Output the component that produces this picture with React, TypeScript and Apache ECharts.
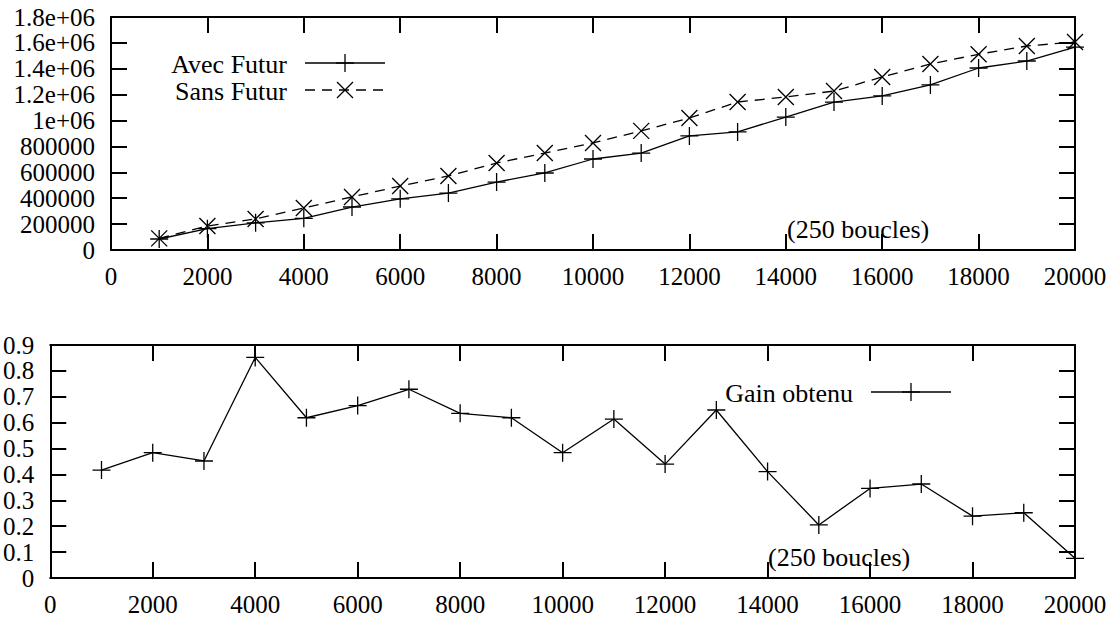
import React, { useEffect, useRef } from "react";
import * as echarts from "echarts";

const xValues = [1000, 2000, 3000, 4000, 5000, 6000, 7000, 8000, 9000, 10000, 11000, 12000, 13000, 14000, 15000, 16000, 17000, 18000, 19000, 20000];
const avecFutur = [85000, 165000, 210000, 245000, 332000, 395000, 440000, 525000, 595000, 703000, 749000, 881000, 912000, 1027000, 1143000, 1190000, 1275000, 1406000, 1460000, 1568000];
const sansFutur = [90000, 185000, 240000, 325000, 410000, 494000, 572000, 672000, 749000, 827000, 920000, 1020000, 1143000, 1182000, 1228000, 1337000, 1437000, 1512000, 1576000, 1607000];
const gainObtenu = [0.417, 0.484, 0.452, 0.852, 0.619, 0.666, 0.729, 0.636, 0.619, 0.484, 0.614, 0.44, 0.649, 0.411, 0.205, 0.346, 0.363, 0.239, 0.252, 0.076];

const xTicks = [0, 2000, 4000, 6000, 8000, 10000, 12000, 14000, 16000, 18000, 20000];
const yTicksTop = [0, 200000, 400000, 600000, 800000, 1000000, 1200000, 1400000, 1600000, 1800000];
const yTicksBottom = [0, 0.1, 0.2, 0.3, 0.4, 0.5, 0.6, 0.7, 0.8, 0.9];

const FONT = "Liberation Serif";
const FS = 25;
const FST = 26;
const PLUS = "path://M0,10L20,10M10,0L10,20";
const CROSS = "path://M0,0L20,20M20,0L0,20";

function topLabel(v: number) {
  if (v >= 1000000) return String(Math.round(v / 100000) / 10) + "e+06";
  return String(v);
}
function botLabel(v: number) {
  if (v === 0) return "0";
  return v.toFixed(1);
}

export default function App() {
  const ref = useRef<HTMLDivElement>(null);
  useEffect(() => {
    if (!ref.current) return;
    const chart = echarts.init(ref.current, null, { renderer: "svg" });
    const line = { show: true, lineStyle: { color: "#000", width: 2 } };
    const tick = { show: true, inside: true, length: 16, lineStyle: { color: "#000", width: 2 } };
    const mkX = (grid: number, secondary: boolean) => ({
      type: "value",
      gridIndex: grid,
      position: secondary ? "top" : "bottom",
      min: xTicks[0],
      max: xTicks[xTicks.length - 1],
      interval: xTicks[1] - xTicks[0],
      axisLine: secondary ? { ...line, onZero: false } : line,
      axisTick: tick,
      axisLabel: secondary
        ? { show: false }
        : { show: true, margin: 14, formatter: (v: number) => String(v), color: "#000", fontFamily: FONT, fontSize: FS },
      splitLine: { show: false },
    });
    const mkY = (grid: number, secondary: boolean, ticks: number[], fmt: (v: number) => string) => ({
      type: "value",
      gridIndex: grid,
      position: secondary ? "right" : "left",
      min: ticks[0],
      max: ticks[ticks.length - 1],
      interval: ticks[1] - ticks[0],
      axisLine: secondary ? { ...line, onZero: false } : line,
      axisTick: tick,
      axisLabel: secondary
        ? { show: false }
        : { show: true, margin: 16, formatter: fmt, color: "#000", fontFamily: FONT, fontSize: FS },
      splitLine: { show: false },
    });
    const legendPlus = (cx: number, cy: number) => [
      { type: "line", shape: { x1: cx - 9, y1: cy, x2: cx + 9, y2: cy }, style: { stroke: "#000", lineWidth: 1.3 } },
      { type: "line", shape: { x1: cx, y1: cy - 9, x2: cx, y2: cy + 9 }, style: { stroke: "#000", lineWidth: 1.3 } },
    ];
    const legendCross = (cx: number, cy: number) => [
      { type: "line", shape: { x1: cx - 8, y1: cy - 8, x2: cx + 8, y2: cy + 8 }, style: { stroke: "#000", lineWidth: 1.3 } },
      { type: "line", shape: { x1: cx + 8, y1: cy - 8, x2: cx - 8, y2: cy + 8 }, style: { stroke: "#000", lineWidth: 1.3 } },
    ];
    const txt = (x: number, y: number, text: string, align: string) => ({
      type: "text",
      x,
      y,
      style: { text, fill: "#000", font: `${FST}px "${FONT}"`, align, verticalAlign: "middle" },
    });
    chart.setOption({
      animation: false,
      grid: [
        { left: 111, top: 17, right: 41, height: 233 },
        { left: 49, top: 345, right: 41, height: 233 },
      ],
      xAxis: [mkX(0, false), mkX(0, true), mkX(1, false), mkX(1, true)],
      yAxis: [
        mkY(0, false, yTicksTop, topLabel),
        mkY(0, true, yTicksTop, topLabel),
        mkY(1, false, yTicksBottom, botLabel),
        mkY(1, true, yTicksBottom, botLabel),
      ],
      series: [
        {
          name: "Avec Futur",
          type: "line",
          xAxisIndex: 0,
          yAxisIndex: 0,
          clip: false,
          data: xValues.map((x, i) => [x, avecFutur[i]]),
          symbol: PLUS,
          symbolSize: 18,
          itemStyle: { color: "rgba(0,0,0,0)", borderColor: "#000", borderWidth: 1.3 },
          lineStyle: { color: "#000", width: 1.3 },
        },
        {
          name: "Sans Futur",
          type: "line",
          xAxisIndex: 0,
          yAxisIndex: 0,
          clip: false,
          data: xValues.map((x, i) => [x, sansFutur[i]]),
          symbol: CROSS,
          symbolSize: 16,
          itemStyle: { color: "rgba(0,0,0,0)", borderColor: "#000", borderWidth: 1.3 },
          lineStyle: { color: "#000", width: 1.3, type: [10, 7] },
        },
        {
          name: "Gain obtenu",
          type: "line",
          xAxisIndex: 2,
          yAxisIndex: 2,
          clip: false,
          data: xValues.map((x, i) => [x, gainObtenu[i]]),
          symbol: PLUS,
          symbolSize: 18,
          itemStyle: { color: "rgba(0,0,0,0)", borderColor: "#000", borderWidth: 1.3 },
          lineStyle: { color: "#000", width: 1.3 },
        },
      ],
      graphic: [
        txt(287, 64, "Avec Futur", "right"),
        { type: "line", shape: { x1: 305, y1: 63, x2: 385, y2: 63 }, style: { stroke: "#000", lineWidth: 1.3 } },
        ...legendPlus(345, 63),
        txt(287, 91, "Sans Futur", "right"),
        { type: "line", shape: { x1: 305, y1: 90, x2: 385, y2: 90 }, style: { stroke: "#000", lineWidth: 1.3, lineDash: [10, 7] } },
        ...legendCross(345, 90),
        txt(787, 229, "(250 boucles)", "left"),
        txt(853, 393, "Gain obtenu", "right"),
        { type: "line", shape: { x1: 871, y1: 392, x2: 951, y2: 392 }, style: { stroke: "#000", lineWidth: 1.3 } },
        ...legendPlus(911, 392),
        txt(768, 557, "(250 boucles)", "left"),
      ],
    });
    return () => chart.dispose();
  }, []);
  return <div ref={ref} style={{ position: "absolute", left: 0, top: 0, width: 1116, height: 620, background: "#fff" }} />;
}
